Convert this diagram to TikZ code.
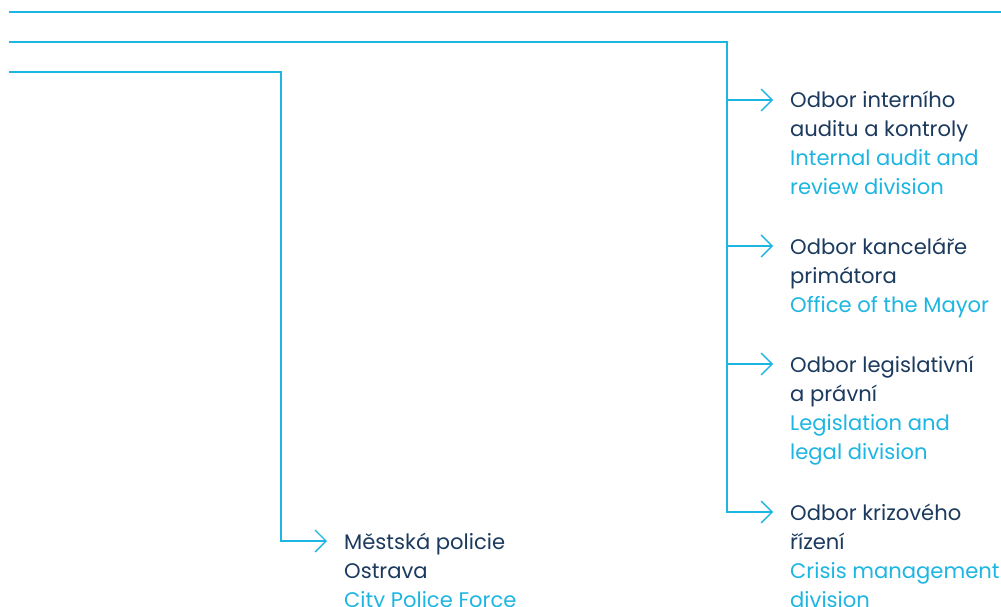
\documentclass[tikz,border=0pt]{standalone}
\usepackage{fontspec}
\setmainfont{Poppins}
\usetikzlibrary{arrows.meta}
\definecolor{lcyan}{HTML}{1DB5E2}
\definecolor{navy}{HTML}{1B3A5E}
\tikzset{
  x=1pt,y=-1pt,
  conn/.style={draw=lcyan,line width=1.3pt},
  arr/.style={conn,-{Straight Barb[length=11pt,width=22pt,line width=1.3pt]}},
  lbl/.style={anchor=base west,inner sep=0pt,font=\fontsize{21.1}{29}\selectfont,text=navy},
}
\newcommand{\en}[1]{\textcolor{lcyan}{#1}}
\newcommand{\lns}[1]{\vtop{\hsize=260pt\baselineskip=29pt\raggedright\noindent #1}}
\begin{document}
\begin{tikzpicture}
\useasboundingbox (0,0) rectangle (1001,607);
\coordinate (t0) at (9,12);
\coordinate (t1) at (1001,12);
\coordinate (s0) at (9,42);
\coordinate (s1) at (727,42);
\coordinate (p0) at (9,72);
\coordinate (p1) at (281,72);
\node[lbl] (a) at (790,108) {\lns{Odbor interního\\auditu a kontroly\\\en{Internal audit and}\\\en{review division}}};
\node[lbl] (b) at (790,254) {\lns{Odbor kanceláře\\primátora\\\en{Office of the Mayor}}};
\node[lbl] (c) at (790,372) {\lns{Odbor legislativní\\a právní\\\en{Legislation and}\\\en{legal division}}};
\node[lbl] (d) at (790,520) {\lns{Odbor krizového\\řízení\\\en{Crisis management}\\\en{division}}};
\node[lbl] (e) at (344,549) {\lns{Městská policie\\Ostrava\\\en{City Police Force}}};
\coordinate (ea) at (327,541);
\coordinate (aa) at (773,100);
\coordinate (ba) at (773,246);
\coordinate (ca) at (773,364);
\coordinate (da) at (773,512);
\draw[conn] (t0) -- (t1);
\draw[arr] (s0) -- (s1) |- (da);
\draw[arr] (s1 |- aa) -- (aa);
\draw[arr] (s1 |- ba) -- (ba);
\draw[arr] (s1 |- ca) -- (ca);
\draw[arr] (p0) -- (p1) |- (ea);
\end{tikzpicture}
\end{document}
